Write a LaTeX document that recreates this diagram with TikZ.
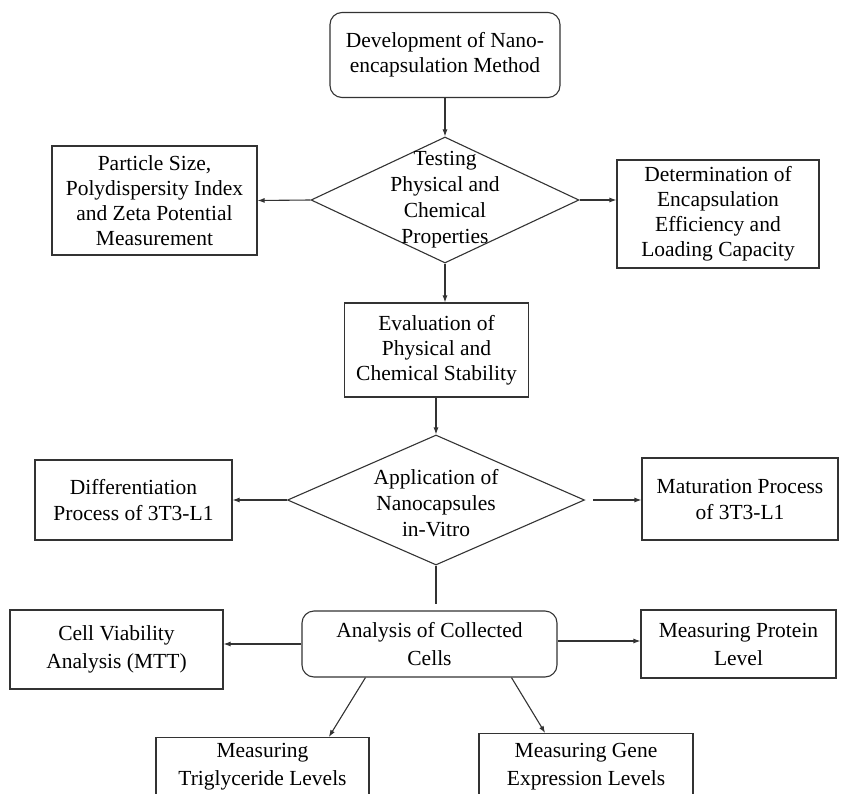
\documentclass[tikz,border=0pt]{standalone}
\usepackage{fontspec}
\setmainfont{Liberation Serif}
\usetikzlibrary{calc}
\usetikzlibrary{shapes}
\usetikzlibrary{arrows.meta}

\begin{document}
\begin{tikzpicture}[x=1bp, y=-1bp,
	every node/.style={font=\fontsize{21.5bp}{25bp}\selectfont, text=black},
	wide/.style={font=\fontsize{21.5bp}{26bp}\selectfont},
	wider/.style={font=\fontsize{21.5bp}{28bp}\selectfont},
	box/.style={draw=black!80, line width=1.1bp, inner sep=0pt, align=center},
	rbox/.style={box, rounded corners=12bp},
	choice/.style={diamond, draw=black!80, line width=1.1bp, inner sep=0pt},
	boxtext/.style={wider, align=center, anchor=north, inner sep=2bp},
	link/.style={draw=black!80, line width=1.1bp, -{Latex[length=7bp,width=5bp]}},
	plain/.style={draw=black!80, line width=1.1bp}]
				\useasboundingbox (0,0) rectangle (842,794);
				\clip (0,0) rectangle (842,794);
				\node[rbox, minimum width=230bp, minimum height=85bp] (dev) at (445,55) {Development of Nano-\\encapsulation Method};
				\node[choice, minimum width=268bp, minimum height=126bp, label={[wide, align=center]center:Testing\\Physical and\\Chemical\\Properties}] (test) at (445,200) {};
				\node[box, minimum width=205bp, minimum height=109bp] (psize) at (154.5,200.5) {Particle Size,\\Polydispersity Index\\and Zeta Potential\\Measurement};
				\node[box, minimum width=202bp, minimum height=108bp] (encap) at (718,214) {Determination of\\Encapsulation\\Efficiency and\\Loading Capacity};
				\node[box, minimum width=184bp, minimum height=94bp] (eval) at (436.5,350) {Evaluation of\\Physical and\\Chemical Stability};
				\node[choice, minimum width=297bp, minimum height=130bp, label={[wide, align=center, yshift=-3bp]center:Application of\\Nanocapsules\\in-Vitro}] (apply) at (436,500) {};
				\node[box, wide, minimum width=197bp, minimum height=80bp] (diff) at (133.5,500) {Differentiation\\Process of 3T3-L1};
				\node[box, wide, minimum width=196bp, minimum height=82bp] (mature) at (740,499) {Maturation Process\\of 3T3-L1};
				\node[rbox, wider, minimum width=255bp, minimum height=66bp] (analysis) at (429.5,644) {Analysis of Collected\\Cells};
				\node[box, wider, minimum width=213bp, minimum height=79bp] (viab) at (116.5,649.5) {Cell Viability\\Analysis (MTT)};
				\node[box, wider, minimum width=195bp, minimum height=68bp] (protein) at (738.5,644) {Measuring Protein\\Level};
				\node[box, anchor=north, minimum width=213bp, minimum height=80bp, label={[boxtext, yshift=-4.5bp]north:Measuring\\Triglyceride Levels}] (trig) at (262.5,737) {};
				\node[box, anchor=north, minimum width=214bp, minimum height=84bp, label={[boxtext, yshift=-8.5bp]north:Measuring Gene\\Expression Levels}] (gene) at (586,733) {};
				
				\draw[link] (dev) -- (test.north);
				\draw[link] (test.west) -- (psize.east);
				\draw[link] (test.east) -- (test.east -| encap.west);
				\draw[link] (test.south) -- (test.south |- eval.north);
				\draw[link] (eval.south -| apply.north) -- (apply.north);
				\draw[link] (apply.west) -- (apply.west -| diff.east);
				\draw[link, shorten <=8bp] (apply.east) -- (apply.east -| mature.west);
				\draw[plain, shorten >=6bp] (apply.south) -- (apply.south |- analysis.north);
				\draw[link] (analysis.west) -- (analysis.west -| viab.east);
				\draw[link] ($(analysis.east)+(0,-3)$) -- ($(analysis.east -| protein.west)+(0,-3)$);
				\draw[link] ($(analysis.south west)!0.25!(analysis.south east)$) -- ($(trig.north west)!0.81!(trig.north east)$);
				\draw[link] ($(analysis.south west)!0.82!(analysis.south east)$) -- ($(gene.north west)!0.31!(gene.north east)$);
			\end{tikzpicture}
\end{document}
